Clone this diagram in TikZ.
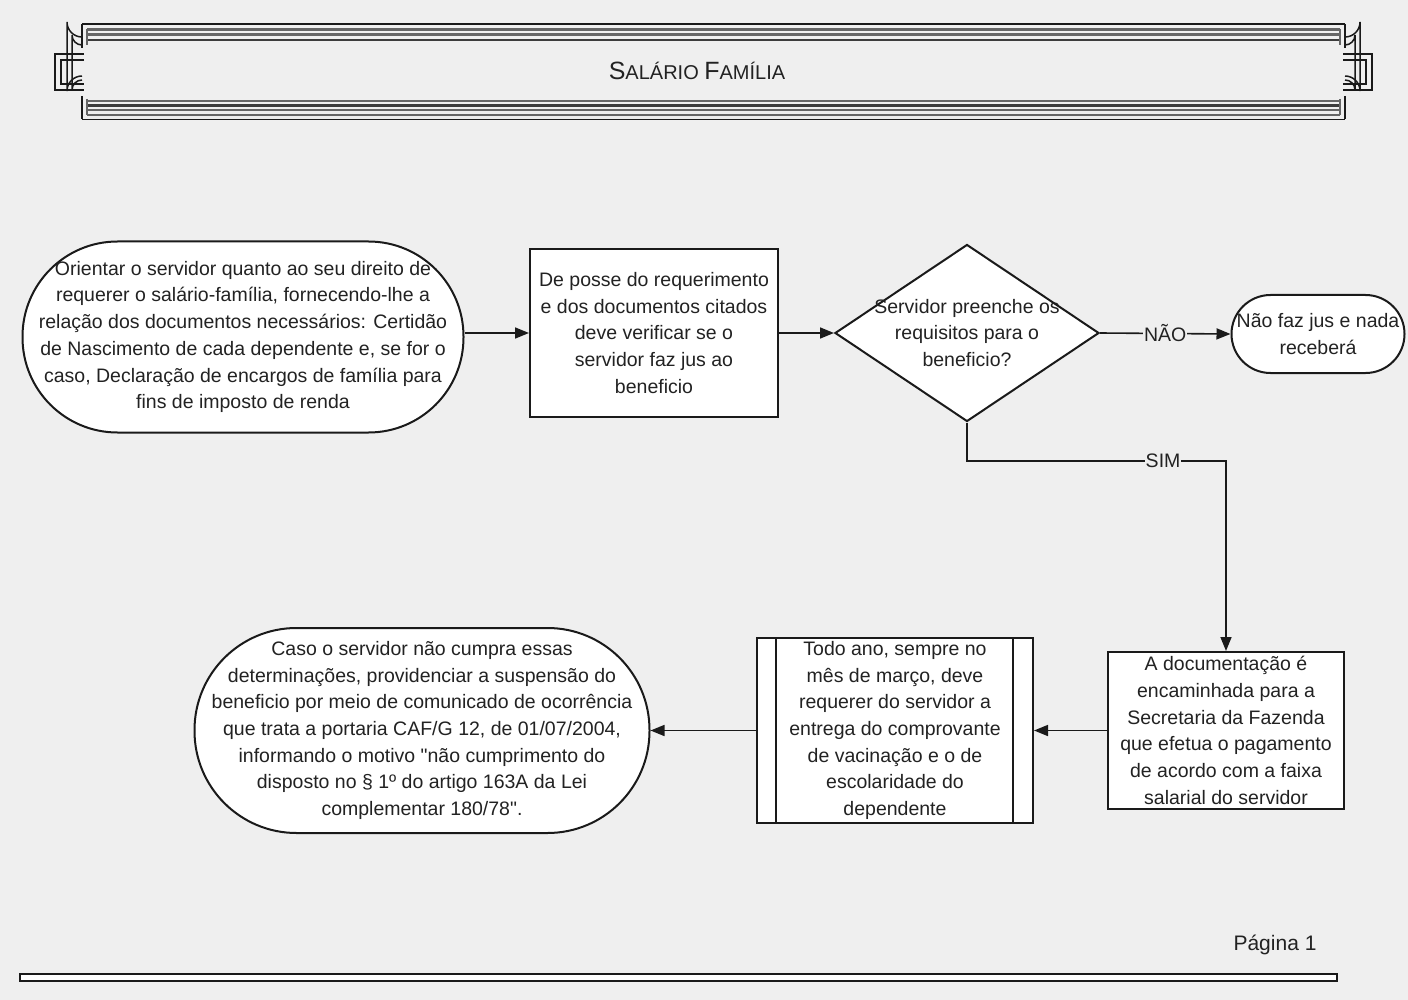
\documentclass[tikz,border=0pt]{standalone}
\usepackage{fontspec}
\setmainfont{Liberation Sans}[Ligatures=TeXOff]
\usetikzlibrary{arrows.meta,shapes.geometric}
\definecolor{bg}{HTML}{EFEFEF}
\definecolor{ln}{HTML}{1A1A1A}
\definecolor{txt}{HTML}{222222}
\definecolor{bgray}{HTML}{666666}
\begin{document}
\begin{tikzpicture}[x=1pt,y=-1pt,
  every node/.style={font=\fontsize{19.5}{26.7}\selectfont, text=txt},
  flowbox/.style={draw=ln, line width=2pt, fill=white, align=center, inner sep=0pt},
  conn/.style={draw=ln, line width=1.6pt, -{Triangle[length=14pt,width=11pt]}},
  lab/.style={fill=bg, inner sep=1pt},
  bcap/.pic={
    \draw[ln, line width=1.5pt] (82,37) arc[start angle=90, end angle=180, radius=15] -- (67,91) arc[start angle=180, end angle=270, radius=15];
    \draw[ln, line width=1.5pt] (82,45) arc[start angle=90, end angle=180, radius=10] -- (72,90) arc[start angle=180, end angle=270, radius=10];
    \draw[ln, line width=1.5pt] (84,54) -- (55,54) -- (55,90) -- (84,90);
    \draw[ln, line width=1.5pt] (84,60) -- (61,60) -- (61,84) -- (84,84);
    \draw[ln, line width=1.5pt] (82,24) -- (82,48);
    \draw[ln, line width=1.5pt] (82,96) -- (82,119);
    \draw[bgray, line width=1.5pt] (87,29) -- (87,45);
    \draw[bgray, line width=1.5pt] (87,99) -- (87,115);
  }
]
\fill[bg] (0,0) rectangle (1408,1000);
\useasboundingbox (0,0) rectangle (1408,1000);

% banner
\draw[ln, line width=1.6pt] (82,24) -- (1345,24);
\draw[bgray, line width=2.6pt] (87,29.5) -- (1340,29.5);
\draw[bgray, line width=2.6pt] (87,34.5) -- (1340,34.5);
\draw[ln!85, line width=2.2pt] (87,40) -- (1340,40);
\draw[bgray, line width=2.6pt] (87,101) -- (1340,101);
\draw[ln!85, line width=2.2pt] (87,105.5) -- (1340,105.5);
\draw[bgray, line width=2.6pt] (87,110) -- (1340,110);
\draw[bgray, line width=1.8pt] (87,115) -- (1340,115);
\draw[ln, line width=1.6pt] (82,119.5) -- (1345,119.5);
\pic at (0,0) {bcap};
\pic[xscale=-1] at (1427,0) {bcap};
\node (title) at (697,71) {\fontsize{25}{25}\selectfont S\fontsize{20}{20}\selectfont ALÁRIO \fontsize{25}{25}\selectfont F\fontsize{20}{20}\selectfont AMÍLIA};

% nodes
\node[flowbox, rounded corners=95, minimum width=441, minimum height=191] (start) at (243,337)
 {Orientar o servidor quanto ao seu direito de\\requerer o salário-família, fornecendo-lhe a\\relação dos documentos necessários: Certidão\\de Nascimento de cada dependente e, se for o\\caso, Declaração de encargos de família para\\fins de imposto de renda};
\node[flowbox, minimum width=248, minimum height=167] (b2) at (654,333)
 {De posse do requerimento\\e dos documentos citados\\deve verificar se o\\servidor faz jus ao\\beneficio};
\node[diamond, draw=ln, line width=2pt, fill=white, inner sep=0pt, minimum width=264, minimum height=177,
 label={[align=center, text=txt]center:Servidor preenche os\\requisitos para o\\beneficio?}] (dia) at (967,333) {};
\node[flowbox, rounded corners=39, minimum width=173, minimum height=78] (nao) at (1318,334)
 {Não faz jus e nada\\receberá};
\node[flowbox, minimum width=236, minimum height=157] (b6) at (1226,730.5)
 {A documentação é\\encaminhada para a\\Secretaria da Fazenda\\que efetua o pagamento\\de acordo com a faixa\\salarial do servidor};
\node[flowbox, minimum width=276, minimum height=185] (b7) at (895,730.5)
 {Todo ano, sempre no\\mês de março, deve\\requerer do servidor a\\entrega do comprovante\\de vacinação e o de\\escolaridade do\\dependente};
\draw[ln, line width=2pt] ([xshift=20pt]b7.north west) -- ([xshift=20pt]b7.south west);
\draw[ln, line width=2pt] ([xshift=-21pt]b7.north east) -- ([xshift=-21pt]b7.south east);
\node[flowbox, rounded corners=102, minimum width=455, minimum height=205] (fin) at (422,730.5)
 {Caso o servidor não cumpra essas\\determinações, providenciar a suspensão do\\beneficio por meio de comunicado de ocorrência\\que trata a portaria CAF/G 12, de 01/07/2004,\\informando o motivo "não cumprimento do\\disposto no § 1º do artigo 163A da Lei\\complementar 180/78".};

% connectors
\coordinate (sim1) at (967,461);
\coordinate (sim2) at (1226,461);
\draw[conn] (start.east |- b2.west) -- (b2.west);
\draw[conn] (b2.east) -- (dia.west);
\draw[conn] (dia.east) -- node[lab] {NÃO} (nao.west);
\draw[conn] (dia.south) -- (sim1) -- node[lab, pos=0.757] {SIM} (sim2) -- (b6.north);
\draw[conn] (b6.west) -- (b7.east);
\draw[conn] (b7.west) -- (fin.east |- b7.west);

% footer
\node[font=\fontsize{21}{21}\selectfont] (pag) at (1275,945) {Página 1};
\draw[ln, line width=1.6pt, fill=white] (20,974) rectangle (1337,981);
\end{tikzpicture}
\end{document}
